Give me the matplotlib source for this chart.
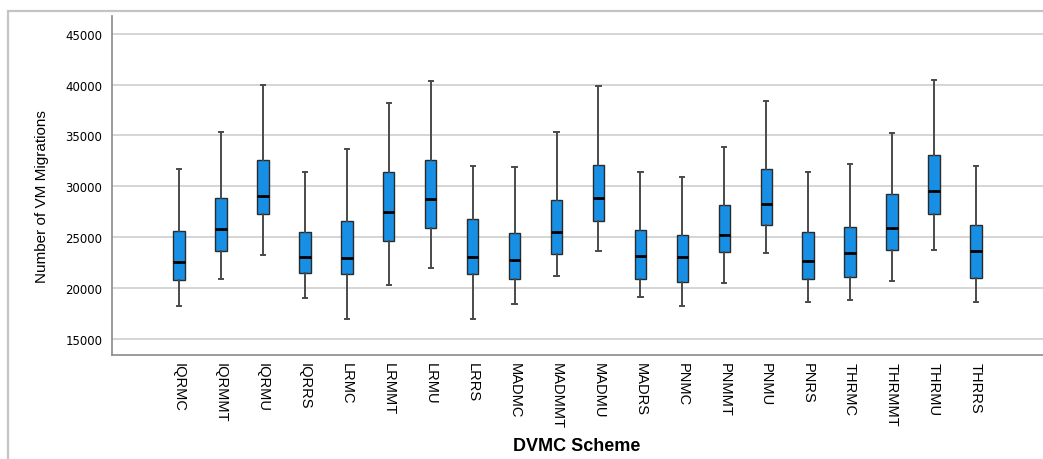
import matplotlib
matplotlib.use("Agg")
import matplotlib.pyplot as plt
from matplotlib.patches import Rectangle

# DVMC schemes on the x axis
schemes = ['IQRMC', 'IQRMMT', 'IQRMU', 'IQRRS', 'LRMC', 'LRMMT', 'LRMU', 'LRRS',
           'MADMC', 'MADMMT', 'MADMU', 'MADRS', 'PNMC', 'PNMMT', 'PNMU', 'PNRS',
           'THRMC', 'THRMMT', 'THRMU', 'THRRS']

# box plot statistics
whisker_low = [18230, 20940, 23300, 19020, 17010, 20350, 21990, 17010,
               18490, 21210, 23630, 19110, 18230, 20490, 23440, 18680,
               18820, 20750, 23790, 18650]
q1 = [20840, 23630, 27270, 21470, 21370, 24610, 25950, 21400,
      20940, 23370, 26580, 20880, 20590, 23530, 26190, 20880,
      21080, 23730, 27270, 21010]
median = [22610, 25790, 29030, 23070, 22940, 27490, 28800, 23040,
          22810, 25530, 28840, 23140, 23040, 25260, 28310, 22680,
          23490, 25890, 29550, 23690]
q3 = [25590, 28840, 32570, 25560, 26640, 31390, 32630, 26800,
      25400, 28670, 32080, 25750, 25200, 28150, 31740, 25530,
      26050, 29230, 33090, 26210]
whisker_high = [31740, 35320, 39960, 31450, 33650, 38170, 40330, 32040,
                31910, 35320, 39890, 31390, 30930, 33900, 38360, 31450,
                32180, 35280, 40480, 32010]

yticks = [15000, 20000, 25000, 30000, 35000, 40000, 45000]

stats = []
for i in range(len(schemes)):
    stats.append({'label': schemes[i], 'whislo': whisker_low[i], 'q1': q1[i],
                  'med': median[i], 'q3': q3[i], 'whishi': whisker_high[i],
                  'fliers': []})

fig = plt.figure(figsize=(10.43, 4.6), dpi=100)
ax = fig.add_axes([112 / 1043, 1 - 356 / 460, 1 - 112 / 1043, (356 - 17) / 460])

# outer frame of the chart area
fig.add_artist(Rectangle((8 / 1043, -0.1), 1.2, 1.1 - 12 / 460, transform=fig.transFigure,
                         fill=False, edgecolor='#c4c4c4', linewidth=1.6))

ax.bxp(stats, positions=range(len(schemes)), widths=0.27, patch_artist=True,
       showfliers=False,
       boxprops=dict(facecolor='#168fe4', edgecolor='#2b2b2b', linewidth=1.0),
       medianprops=dict(color='black', linewidth=2.0),
       whiskerprops=dict(color='#4a4a4a', linewidth=1.4),
       capprops=dict(color='#4a4a4a', linewidth=1.4),
       capwidths=0.1, zorder=3)

ax.set_xlim(-1.6, len(schemes) - 1 + 1.6)
ax.set_ylim(13430, 46740)
ax.set_yticks(yticks)
ax.set_yticklabels([str(v) for v in yticks], fontsize=8.5, family='DejaVu Sans')
ax.set_xticks(range(len(schemes)))
ax.set_xticklabels(schemes, rotation=270, fontsize=10.5, family='Liberation Sans',
                   ha='center', va='top')
ax.tick_params(axis='both', length=0)
ax.tick_params(axis='y', pad=7)
ax.tick_params(axis='x', pad=5)

ax.grid(axis='y', color='#d2d2d2', linewidth=1.3, zorder=0)
ax.set_axisbelow(True)
for side in ['top', 'right']:
    ax.spines[side].set_visible(False)
for side in ['left', 'bottom']:
    ax.spines[side].set_color('#8a8a8a')
    ax.spines[side].set_linewidth(1.2)

ax.set_ylabel('Number of VM Migrations', fontsize=11, family='Liberation Sans')
ax.yaxis.set_label_coords(-63 / 931, 0.47)
fig.text(577 / 1043, 1 - 447 / 460, 'DVMC Scheme', fontsize=13, fontweight='bold',
         family='Liberation Sans', ha='center', va='center')

fig.savefig('out.png', dpi=100)
